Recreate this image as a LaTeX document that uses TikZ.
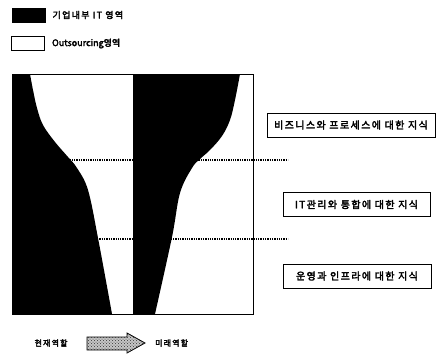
\documentclass[tikz,border=0pt]{standalone}
\usepackage{fontspec}
\newfontfamily\kr[FakeBold=3,LetterSpace=14]{Noto Sans CJK KR}
\newfontfamily\krplain[FakeBold=3]{Noto Sans CJK KR}
\usetikzlibrary{positioning,patterns}

\begin{document}
\begin{tikzpicture}[x=1pt,y=-1pt,
	legendbox/.style={draw,line width=0.8pt,minimum width=33pt,minimum height=14pt,inner sep=0pt},
	legendtext/.style={inner sep=0pt,font=\kr\fontsize{9}{10}\selectfont},
	roletext/.style={inner sep=0pt,font=\kr\fontsize{8}{9}\selectfont},
	knowbox/.style={draw,line width=1pt,minimum height=24pt,inner sep=0pt,font=\kr\fontsize{10}{11}\selectfont},
	divline/.style={densely dotted,line width=1.3pt}]
	\useasboundingbox (0,0) rectangle (437,360);
	\node[legendbox,fill=black] (inhouse) at (28.5,15) {};
	\node[legendtext,right=7pt of inhouse] (inhousetext) {기업내부 IT 영역};
	\node[legendbox] (outsrc) at (28,43.5) {};
	\node[legendtext,font=\krplain\fontsize{9}{10}\selectfont,right=7pt of outsrc] (outsrctext) {Outsourcing영역};

	\fill (12,74) -- plot[smooth,tension=0.6] coordinates {(30,74) (33,90) (37,108) (43,125) (55,142) (68,157) (77,168) (88,190) (98,238) (112,314)} -- (12,314) -- cycle;
	\fill (133,74) -- plot[smooth,tension=0.6] coordinates {(240,74) (235,100) (230,120) (222,136) (210,150) (200,159) (192,168) (180,193) (172,237) (155,314)} -- (133,314) -- cycle;
	\draw (12,74) rectangle (253,314);
	\draw (133,74) -- (133,314);

	\coordinate (upperleft) at (12,160);
	\coordinate (upperright) at (288,160);
	\coordinate (lowerleft) at (12,239);
	\coordinate (lowerright) at (288,239);
	\draw[divline] (upperleft) -- (upperright);
	\draw[divline] (lowerleft) -- (lowerright);

	\node[knowbox,minimum width=168pt] (business) at (351,125) {비즈니스와 프로세스에 대한 지식};
	\node[knowbox,minimum width=147pt] (itmgmt) at (356.5,204.5) {IT관리와 통합에 대한 지식};
	\node[knowbox,minimum width=148pt] (infra) at (357,276) {운영과 인프라에 대한 지식};

	\node[roletext] (current) at (51,343) {현재역할};
	\filldraw[line width=0.8pt,fill=gray!45,postaction={pattern=crosshatch dots,pattern color=gray!40!black}]
		(87,337) -- (127,337) -- (127,333) -- (145,343) -- (127,353) -- (127,350) -- (87,350) -- cycle;
	\coordinate (tip) at (145,343);
	\node[roletext,right=10pt of tip] (future) {미래역할};
\end{tikzpicture}
\end{document}
